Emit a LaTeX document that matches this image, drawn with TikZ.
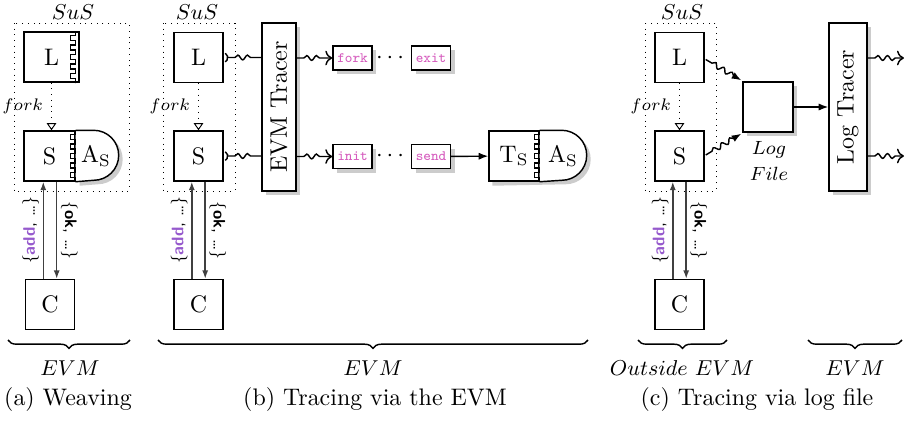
\documentclass[tikz,border=0pt]{standalone}
\usepackage{tikz}
\usepackage{graphicx}
\usepackage{amsmath}
\usepackage{amssymb}
\usetikzlibrary{arrows.meta,decorations.pathmorphing,decorations.pathreplacing,shadows}

\definecolor{tracepink}{RGB}{214,92,190}
\definecolor{msgpurple}{RGB}{150,90,205}

\tikzset{
  comp/.style={draw, semithick, inner sep=0pt, minimum width=20.5pt, minimum height=20.9pt, font=\normalsize},
  susline/.style={dotted, thin},
  shadowed/.style={general shadow={fill=black!20, shadow xshift=1.7pt, shadow yshift=-1.7pt}},
  event/.style={draw, semithick, fill=white, inner sep=1.5pt, minimum width=16.3pt, minimum height=10pt,
    font=\fontsize{6}{7}\selectfont\ttfamily, text=tracepink, shadowed},
  tracer/.style={draw, semithick, fill=white, inner sep=0pt, minimum height=70.2pt, shadowed},
  wavy/.style={decorate, decoration={snake, amplitude=1pt, segment length=4pt, pre length=3pt, post length=3.5pt}},
  forkarrow/.style={dotted, thin, -{Triangle[open, length=3pt, width=4pt]}},
  msg/.style={semithick, black!75, -{Latex[length=3.5pt, width=2.5pt]}},
  msglabel/.style={font=\fontsize{7}{8}\selectfont\sffamily, text=black, inner sep=1.5pt},
  bigbrace/.style={decorate, decoration={brace, amplitude=3.5pt}, semithick},
  note/.style={font=\small},
}

% comb of a woven aspect, teeth pointing left
\newcommand{\plugteeth}[2]{\draw[semithick] #1 -- ++(0,-4) foreach \k in {1,...,5} {-- ++(-5,0) -- ++(0,-5) -- ++(5,0) -- ++(0,-4.5)} -- #2;}

\begin{document}
\begin{tikzpicture}[x=0.418pt, y=0.418pt]
\useasboundingbox (0,0) rectangle (905,-422);

% (a) weaving
\node[note] (susa) at (73,-12) {$SuS$};
\draw[susline] (14,-23) rectangle (129,-191);
\node[comp, minimum width=23pt] (la) at (51.5,-57) {L};
\plugteeth{([shift={(-4,0)}]la.north east)}{([shift={(-4,0)}]la.south east)}
\node[comp, minimum width=21.3pt] (sa) at (49.5,-156) {S};
\fill[black!20] ([shift={(4,-4)}]sa.north east) -- ++(18,0) arc[start angle=90, end angle=-90, radius=25] -- ([shift={(4,-4)}]sa.south east) -- cycle;
\draw[semithick, fill=white] (sa.north east) -- ++(18,0) arc[start angle=90, end angle=-90, radius=25] -- (sa.south east);
\plugteeth{(sa.north east)}{(sa.south east)}
\node (asa) at (96,-156) {A$_\mathrm{S}$};
\draw[forkarrow] (la.south) -- (la.south |- sa.north) node[midway, left, font=\scriptsize] (forka) {$fork$};
\node[comp] (ca) at (50,-304.5) {C};
\draw[msg] ([xshift=-2.8pt]ca.north) -- ([xshift=-2.8pt]ca.north |- sa.south)
  node[midway, sloped, above, msglabel] (adda) {\{\textbf{\textcolor{msgpurple}{add}}, \ldots\}};
\draw[msg] ([xshift=2.8pt]ca.north |- sa.south) -- ([xshift=2.8pt]ca.north)
  node[midway, sloped, above, msglabel] (oka) {\{\textbf{ok}, \ldots\}};
\draw[bigbrace] (130,-340) -- (8,-340);
\node[note] (evma) at (70,-368) {$EVM$};
\node (capa) at (68,-400) {(a) Weaving};

% (b) tracing via the EVM
\node[note] (susb) at (197,-12) {$SuS$};
\draw[susline] (163,-23) rectangle (235,-191);
\node[comp] (lb) at (198.5,-57.5) {L};
\node[comp] (sb) at (198.5,-156) {S};
\draw[forkarrow] (lb) -- (sb) node[midway, left, font=\scriptsize] (forkb) {$fork$};
\node[tracer, minimum width=14.2pt] (evm) at (279,-107) {\rotatebox{90}{EVM Tracer}};
\draw[semithick] ([shift={(1.5,4.3)}]lb.east) arc[start angle=60, end angle=-60, radius=5];
\draw[semithick] ([shift={(1.5,4.3)}]sb.east) arc[start angle=60, end angle=-60, radius=5];
\draw[semithick, wavy] ([shift={(4,0)}]lb.east) -- (lb.east -| evm.west);
\draw[semithick, wavy] ([shift={(4,0)}]sb.east) -- (sb.east -| evm.west);
\node[event] (fk) at (352.5,-58) {fork};
\node[event] (ex) at (431,-58) {exit};
\node[event] (in) at (352.5,-156.5) {init};
\node[event] (sd) at (431,-156.5) {send};
\node (dotf) at (392,-58) {$\cdots$};
\node (dots) at (392,-156.5) {$\cdots$};
\draw[semithick, wavy, ->] (evm.east |- fk) -- (fk);
\draw[semithick, wavy, ->] (evm.east |- in) -- (in);
\node[comp, minimum width=20.9pt] (ts) at (514,-156) {T$_\mathrm{S}$};
\fill[black!20] ([shift={(4,-4)}]ts.north east) -- ++(22,0) arc[start angle=90, end angle=-90, radius=25] -- ([shift={(4,-4)}]ts.south west) -- ([shift={(4,-4)}]ts.north west) -- cycle;
\node[comp, minimum width=20.9pt, fill=white] at (ts) {T$_\mathrm{S}$};
\draw[semithick, fill=white] (ts.north east) -- ++(22,0) arc[start angle=90, end angle=-90, radius=25] -- (ts.south east);
\plugteeth{(ts.north east)}{(ts.south east)}
\node (asb) at (563,-156) {A$_\mathrm{S}$};
\draw[semithick, -{Latex[length=4pt]}] (sd) -- (ts);
\node[comp] (cb) at (198.5,-304.5) {C};
\draw[msg] ([xshift=-2.8pt]cb.north) -- ([xshift=-2.8pt]cb.north |- sb.south)
  node[midway, sloped, above, msglabel] (addb) {\{\textbf{\textcolor{msgpurple}{add}}, \ldots\}};
\draw[msg] ([xshift=2.8pt]cb.north |- sb.south) -- ([xshift=2.8pt]cb.north)
  node[midway, sloped, above, msglabel] (okb) {\{\textbf{ok}, \ldots\}};
\draw[bigbrace] (588,-340) -- (158,-340);
\node[note] (evmb) at (373,-368) {$EVM$};
\node (capb) at (375,-400) {(b) Tracing via the EVM};

% (c) tracing via log file
\node[note] (susc) at (682,-12) {$SuS$};
\draw[susline] (645,-23) rectangle (716,-191);
\node[comp] (lc) at (679.5,-57.5) {L};
\node[comp] (sc) at (679.5,-156) {S};
\draw[forkarrow] (lc) -- (sc) node[midway, left, font=\scriptsize] (forkc) {$fork$};
\node[comp, minimum width=20.9pt, shadowed, fill=white] (lf) at (768,-107) {};
\node[font=\footnotesize, align=center] (lfname) at (769,-161) {$Log$\\[1pt]$File$};
\draw[semithick, wavy, -{Latex[length=4pt]}] ([shift={(1,-2)}]lc.east) -- ([shift={(-1,1)}]lf.north west);
\draw[semithick, wavy, -{Latex[length=4pt]}] ([shift={(1,1)}]sc.east) -- ([shift={(-1,-1)}]lf.south west);
\node[tracer, minimum width=15.9pt] (lt) at (848,-107) {\rotatebox{90}{Log Tracer}};
\draw[semithick, -{Latex[length=4pt]}] (lf) -- (lt);
\coordinate (outl) at (904,-58);
\coordinate (outs) at (904,-156);
\draw[semithick, wavy, ->] (lt.east |- outl) -- (outl);
\draw[semithick, wavy, ->] (lt.east |- outs) -- (outs);
\node[comp] (cc) at (679.5,-304.5) {C};
\draw[msg] ([xshift=-2.8pt]cc.north) -- ([xshift=-2.8pt]cc.north |- sc.south)
  node[midway, sloped, above, msglabel] (addc) {\{\textbf{\textcolor{msgpurple}{add}}, \ldots\}};
\draw[msg] ([xshift=2.8pt]cc.north |- sc.south) -- ([xshift=2.8pt]cc.north)
  node[midway, sloped, above, msglabel] (okc) {\{\textbf{ok}, \ldots\}};
\draw[bigbrace] (727,-340) -- (638,-340);
\node[note] (outevm) at (682,-368) {$Outside\ EVM$};
\draw[bigbrace] (902,-340) -- (808,-340);
\node[note] (evmc) at (855,-368) {$EVM$};
\node (capc) at (757,-400) {(c) Tracing via log file};
\end{tikzpicture}
\end{document}
